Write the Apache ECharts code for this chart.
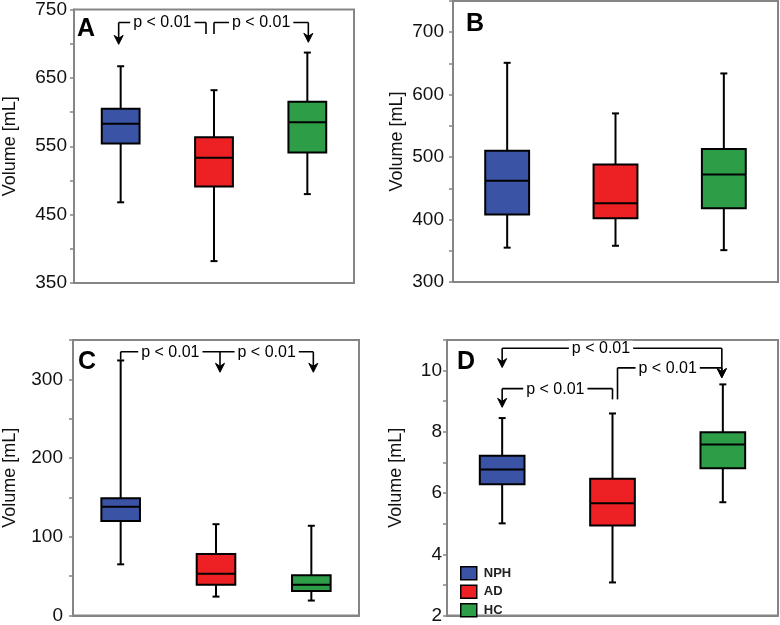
<!DOCTYPE html>
<html>
<head>
<meta charset="utf-8">
<script src="https://cdn.jsdelivr.net/npm/echarts@6/dist/echarts.min.js"></script>
<style>html,body{margin:0;padding:0;background:#fff}#c{width:780px;height:625px}</style>
</head>
<body>
<div id="c"></div>
<script>
// Groups and colours
const groups = ['NPH', 'AD', 'HC'];
const groupColors = ['#3a53a4', '#ed2024', '#2e9d48'];
// Each array: [min, Q1, median, Q3, max]  (mL)
const aNPH = [468, 554, 583, 605, 667];
const aAD  = [382, 491, 533, 563, 632];
const aHC  = [480, 541, 585, 615, 687];
const bNPH = [355, 408, 462, 510, 651];
const bAD  = [358, 402, 426, 488, 570];
const bHC  = [351, 418, 472, 513, 634];
const cNPH = [65, 120, 138, 149, 324];
const cAD  = [24, 39, 53, 78, 116];
const cHC  = [19, 31, 39, 51, 114];
const dNPH = [5.01, 6.29, 6.77, 7.22, 8.45];
const dAD  = [3.08, 4.94, 5.67, 6.47, 8.60];
const dHC  = [5.70, 6.81, 7.59, 7.99, 9.55];
const panelLetters = ['A', 'B', 'C', 'D'];
// y-axis ranges and tick settings
const yMin = [350, 300, 0, 2];
const yMax = [750, 750, 350, 11];
const yStep = [50, 50, 50, 1];
const yLabelStep = [100, 100, 100, 2];
const pText = 'p < 0.01';

const panelData = [[aNPH, aAD, aHC], [bNPH, bAD, bHC], [cNPH, cAD, cHC], [dNPH, dAD, dHC]];

// Layout (pixels)
const gridBoxes = [
  {left: 70, top: 7, width: 284, height: 276},
  {left: 453, top: 1, width: 325, height: 281},
  {left: 69, top: 340, width: 290, height: 276},
  {left: 447, top: 340, width: 331, height: 277}
];
const labelMargins = [7, 9, 10, 5];
const nameGaps = [55, 47, 54, 42];
const letterPos = [[77, 17], [466, 12], [78, 350], [457, 350]];

// Significance brackets, in data units: end = [category, pixel nudge, end value, arrow?]
const brackets = [
  {g: 0, a: [0, -2, 699, true], b: [1, -8, 714, false], level: 731, tdx: 0},
  {g: 0, a: [1, 0, 714, false], b: [2, 1, 702, true], level: 731, tdx: 0},
  {g: 2, a: [0, 0, 325, false], b: [1, 4, 309, true], level: 335, tdx: 0},
  {g: 2, a: [1, 4, 335, false], b: [2, 2, 309, true], level: 335, tdx: 0},
  {g: 3, a: [0, 0, 10.1, true], b: [2, -1, 9.77, true], level: 10.73, tdx: -11},
  {g: 3, a: [1, 5, 9.06, false], b: [2, -1, 9.77, true], level: 10.09, tdx: -2},
  {g: 3, a: [0, 0, 8.80, true], b: [1, 0, 9.06, false], level: 9.41, tdx: -2}
];

const FONT = "'Liberation Sans', Arial, Helvetica, sans-serif";
const FRAME = '#858585';

function renderBox(params, api) {
  const x = api.value(0);
  const lo = api.coord([x, api.value(1)]);
  const q1 = api.coord([x, api.value(2)]);
  const md = api.coord([x, api.value(3)]);
  const q3 = api.coord([x, api.value(4)]);
  const hi = api.coord([x, api.value(5)]);
  const bw = api.size([1, 0])[0] * 0.405;
  const cx = lo[0];
  const cap = 3.5;
  const st = {stroke: '#000', lineWidth: 2};
  return {
    type: 'group',
    children: [
      {type: 'line', shape: {x1: cx, y1: hi[1], x2: cx, y2: q3[1]}, style: st},
      {type: 'line', shape: {x1: cx, y1: q1[1], x2: cx, y2: lo[1]}, style: st},
      {type: 'line', shape: {x1: cx - cap, y1: hi[1], x2: cx + cap, y2: hi[1]}, style: st},
      {type: 'line', shape: {x1: cx - cap, y1: lo[1], x2: cx + cap, y2: lo[1]}, style: st},
      {type: 'rect', shape: {x: cx - bw / 2, y: q3[1], width: bw, height: q1[1] - q3[1]},
        style: {fill: api.visual('color'), stroke: '#000', lineWidth: 2}},
      {type: 'line', shape: {x1: cx - bw / 2, y1: md[1], x2: cx + bw / 2, y2: md[1]}, style: st}
    ]
  };
}

const grids = [], xAxes = [], yAxes = [], series = [];
for (let g = 0; g < 4; g++) {
  grids.push(Object.assign({show: true, borderColor: FRAME, borderWidth: 2, backgroundColor: '#fff', containLabel: false}, gridBoxes[g]));
  xAxes.push({
    type: 'category', gridIndex: g, data: groups, boundaryGap: true,
    axisLine: {lineStyle: {color: FRAME, width: 2}}, axisTick: {show: false}, axisLabel: {show: false}, splitLine: {show: false}
  });
  const step = yLabelStep[g], base = yMin[g];
  yAxes.push({
    type: 'value', gridIndex: g, min: yMin[g], max: yMax[g], interval: yStep[g],
    name: 'Volume [mL]', nameLocation: 'middle', nameRotate: 90, nameGap: nameGaps[g],
    nameTextStyle: {fontFamily: FONT, fontSize: 18, color: '#111'},
    axisLine: {show: true, lineStyle: {color: FRAME, width: 2}},
    axisTick: {show: true, length: 4, lineStyle: {color: FRAME, width: 1.5}},
    splitLine: {show: false},
    axisLabel: {
      fontFamily: FONT, fontSize: 19, color: '#111', margin: labelMargins[g], showMaxLabel: true, showMinLabel: true,
      formatter: function (v) {
        const k = Math.round((v - base) / step * 1000) / 1000;
        return Number.isInteger(k) && v <= yMax[g] ? String(v) : '';
      }
    }
  });
  for (let s = 0; s < 3; s++) {
    const d = panelData[g][s];
    series.push({
      type: 'custom', name: groups[s], xAxisIndex: g, yAxisIndex: g,
      itemStyle: {color: groupColors[s]},
      renderItem: renderBox,
      encode: {x: 0, y: [1, 2, 3, 4, 5]},
      data: [[s, d[0], d[1], d[2], d[3], d[4]]],
      z: 3
    });
  }
}

const chart = echarts.init(document.getElementById('c'), null, {renderer: 'canvas'});
chart.setOption({
  animation: false,
  backgroundColor: '#fff',
  grid: grids, xAxis: xAxes, yAxis: yAxes, series: series,
  legend: {
    data: groups, orient: 'vertical', left: 455, top: 561, itemWidth: 16, itemHeight: 13, itemGap: 4,
    icon: 'rect', selectedMode: false,
    itemStyle: {borderColor: '#000', borderWidth: 1.5},
    textStyle: {fontFamily: FONT, fontSize: 13, fontWeight: 'bold', color: '#222', padding: [0, 0, 0, 2]}
  }
});

// Overlay: panel letters and significance brackets, placed through the axes' own scales
const gfx = [];
for (let g = 0; g < 4; g++) {
  gfx.push({type: 'text', left: letterPos[g][0], top: letterPos[g][1], z: 10,
    style: {text: panelLetters[g], font: 'bold 25px ' + FONT, fill: '#000'}});
}
function px(g, cat, v) { return chart.convertToPixel({xAxisIndex: g, yAxisIndex: g}, [cat, v]); }
brackets.forEach(function (b) {
  const pa = px(b.g, b.a[0], b.level), pb = px(b.g, b.b[0], b.level);
  const xa = pa[0] + b.a[1], xb = pb[0] + b.b[1], yl = pa[1];
  const st = {stroke: '#000', lineWidth: 1.6};
  gfx.push({type: 'line', z: 10, shape: {x1: xa, y1: yl, x2: xb, y2: yl}, style: st});
  [[xa, b.a], [xb, b.b]].forEach(function (e) {
    const x = e[0], end = e[1];
    const ye = px(b.g, end[0], end[2])[1];
    if (Math.abs(ye - yl) < 0.5) return;
    if (end[3]) {
      gfx.push({type: 'line', z: 10, shape: {x1: x, y1: yl, x2: x, y2: ye - 4}, style: st});
      gfx.push({type: 'polygon', z: 10, shape: {points: [[x, ye], [x - 4.5, ye - 9], [x, ye - 6], [x + 4.5, ye - 9]]},
        style: {fill: '#000', stroke: '#000', lineWidth: 1}});
    } else {
      gfx.push({type: 'line', z: 10, shape: {x1: x, y1: yl, x2: x, y2: ye}, style: st});
    }
  });
  gfx.push({type: 'text', z: 11, x: (xa + xb) / 2 + b.tdx, y: yl + 0.5,
    style: {text: pText, font: '16px ' + FONT, fill: '#000', align: 'center', verticalAlign: 'middle',
      backgroundColor: '#fff', padding: [0, 3]}});
});
chart.setOption({graphic: gfx});
</script>
</body>
</html>
